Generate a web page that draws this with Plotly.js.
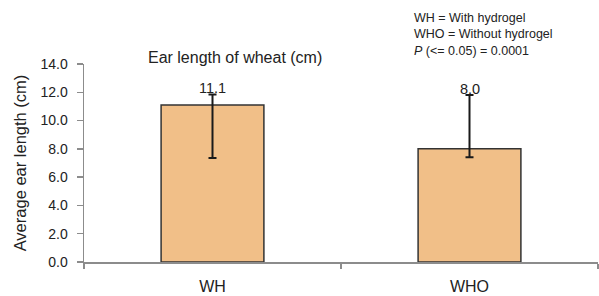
<!DOCTYPE html>
<html>
<head>
<meta charset="utf-8">
<script src="https://cdn.plot.ly/plotly-3.0.1.min.js"></script>
<style>html,body{margin:0;padding:0;background:#fff;}#chart{width:599px;height:296px;}</style>
</head>
<body>
<div id="chart"></div>
<script>
const categories = ["WH", "WHO"];
const meanValues = [11.1, 8.0];
const errorPlus = [0.75, 3.8];
const errorMinus = [3.75, 0.6];
const yTickVals = [0, 2, 4, 6, 8, 10, 12, 14];
const yTickText = ["0.0", "2.0", "4.0", "6.0", "8.0", "10.0", "12.0", "14.0"];
const noteLines = ["WH = With hydrogel", "WHO = Without hydrogel", "<i>P</i> (<= 0.05) = 0.0001"];

const font = "Liberation Sans, Arial, sans-serif";
const textColor = "#222222";

const trace = {
  type: "bar",
  x: categories,
  y: meanValues,
  width: 0.4,
  marker: {color: "#F1BF88", line: {color: "#333333", width: 1.5}},
  error_y: {type: "data", symmetric: false, array: errorPlus, arrayminus: errorMinus,
            color: "#1a1a1a", thickness: 2, width: 4},
  hoverinfo: "none"
};

const valueLabels = categories.map((c, i) => ({
  x: c, y: meanValues[i] + errorPlus[i], xref: "x", yref: "y",
  text: meanValues[i].toFixed(1), showarrow: false,
  yanchor: "middle", yshift: 6,
  font: {family: font, size: 14.5, color: textColor}
}));

const layout = {
  width: 599, height: 296,
  margin: {l: 84, r: 1, t: 64, b: 34},
  paper_bgcolor: "#fff", plot_bgcolor: "#fff",
  showlegend: false,
  bargap: 0.6,
  title: {text: "Ear length of wheat (cm)", x: 0.294, xref: "paper", xanchor: "center",
          y: 1 - 57/296, yref: "container", yanchor: "middle",
          font: {family: font, size: 16, color: textColor}},
  xaxis: {
    type: "category", showgrid: false, zeroline: false,
    showline: true, linecolor: "#8c8c8c", linewidth: 1.5,
    ticks: "outside", tickson: "boundaries", ticklen: 5, tickcolor: "#8c8c8c", tickwidth: 1.5,
    ticklabelstandoff: 9,
    tickfont: {family: font, size: 16, color: textColor},
    range: [-0.5, 1.5], fixedrange: true
  },
  yaxis: {
    range: [0, 14], tickvals: yTickVals, ticktext: yTickText,
    showgrid: false, zeroline: false,
    showline: true, linecolor: "#8c8c8c", linewidth: 1.5,
    ticks: "outside", ticklen: 6, tickcolor: "#8c8c8c", tickwidth: 1.5,
    ticklabelstandoff: 6,
    tickfont: {family: font, size: 14, color: textColor},
    title: {text: "Average ear length (cm)", standoff: 9,
            font: {family: font, size: 16.5, color: textColor}},
    fixedrange: true
  },
  annotations: valueLabels.concat([{
    xref: "paper", yref: "paper", x: (412 - 84) / 514, y: 1 + (64 - 9) / 198,
    xanchor: "left", yanchor: "top", align: "left", showarrow: false,
    text: noteLines.join("<br>"),
    font: {family: font, size: 12.5, color: textColor}
  }])
};

Plotly.newPlot("chart", [trace], layout, {displayModeBar: false, staticPlot: true});
</script>
</body>
</html>
